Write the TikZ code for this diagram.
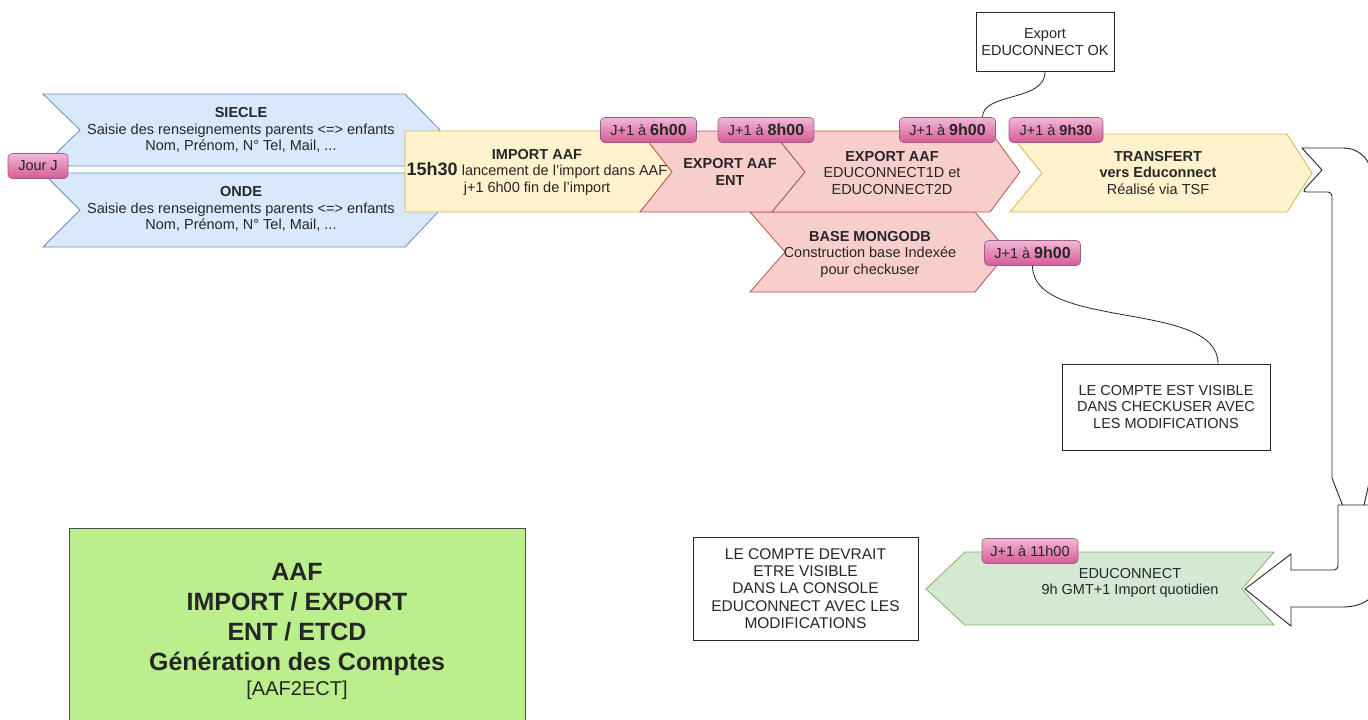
\documentclass[tikz,border=0pt]{standalone}
\usepackage{fontspec}
\setmainfont{Liberation Sans}
\definecolor{bluefill}{HTML}{DAE8FC}\definecolor{bluedraw}{HTML}{6C8EBF}
\definecolor{yelfill}{HTML}{FFF2CC}\definecolor{yeldraw}{HTML}{D6B656}
\definecolor{pinkfill}{HTML}{F8CECC}\definecolor{pinkdraw}{HTML}{B85450}
\definecolor{grnfill}{HTML}{D5E8D4}\definecolor{grndraw}{HTML}{82B366}
\definecolor{tagtop}{HTML}{F2B8D6}\definecolor{tagbot}{HTML}{D65A96}\definecolor{tagdraw}{HTML}{996185}
\definecolor{aafgreen}{HTML}{BAEF8C}
\begin{document}
\begin{tikzpicture}[x=1pt,y=-1pt,
  every node/.style={font=\fontsize{14.5}{16.5}\selectfont, inner sep=0pt, text=black!85},
  txt/.style={align=center},
  bluestep/.style={fill=bluefill, draw=bluedraw, line width=0.8pt},
  yelstep/.style={fill=yelfill, draw=yeldraw, line width=0.8pt},
  pinkstep/.style={fill=pinkfill, draw=pinkdraw, line width=0.8pt},
  grnstep/.style={fill=grnfill, draw=grndraw, line width=0.8pt},
  tag/.style={rounded corners=4pt, top color=tagtop, bottom color=tagbot, draw=tagdraw, line width=0.6pt, minimum height=25pt, minimum width=96pt, align=center},
  note/.style={draw=black!85, fill=white, line width=0.8pt, align=center},
  link/.style={draw=black!85, line width=0.8pt},
  uarrow/.style={fill=white, draw=black!85, line width=0.9pt, line join=miter}
]
\useasboundingbox (0,0) rectangle (1368,720);
\clip (0,0) rectangle (1368,720);

% blue chevrons
\draw[bluestep] (43,94) -- (405,94) -- (440,130) -- (405,166) -- (43,166) -- (80,130) -- cycle;
\draw[bluestep] (43,173) -- (405,173) -- (440,210) -- (405,247) -- (43,247) -- (80,210) -- cycle;
% import AAF
\draw[yelstep] (405,131) -- (640,131) -- (672,172) -- (640,212) -- (405,212) -- cycle;
% mongodb
\draw[pinkstep] (750,212) -- (975,212) -- (1008,252) -- (975,292) -- (750,292) -- (785,252) -- cycle;
% export ENT
\draw[pinkstep] (640,131) -- (772,131) -- (805,172) -- (772,212) -- (640,212) -- (672,172) -- cycle;
% export educonnect
\draw[pinkstep] (772,131) -- (990,131) -- (1020,172) -- (990,212) -- (772,212) -- (805,172) -- cycle;
% transfert
\draw[yelstep] (1010,134) -- (1287,134) -- (1312,173) -- (1287,212) -- (1010,212) -- (1042,173) -- cycle;
% educonnect (green, left)
\draw[grnstep] (965,552) -- (1274,552) -- (1242,589) -- (1274,625) -- (965,625) -- (926,589) -- cycle;

% big U arrow
\draw[uarrow] (1302,148) -- (1343,148) .. controls (1360,148) and (1372,160) .. (1372,180)
  -- (1372,470) -- (1356,540) -- (1332,478) [rounded corners=4pt] -- (1332,192) -- (1302,192) [sharp corners] -- (1322,170) -- cycle;
\draw[uarrow] (1380,505) -- (1338,505) [rounded corners=4pt] -- (1338,570) [sharp corners] -- (1291,570) -- (1291,554) -- (1245,589)
  -- (1291,626) -- (1291,607) -- (1343,607) .. controls (1365,607) and (1380,595) .. (1380,575) -- cycle;

% texts in steps
\node[txt] (siecle) at (241,130) {\textbf{SIECLE}\\Saisie des renseignements parents <=> enfants\\Nom, Prénom, N° Tel, Mail, ...};
\node[txt] (onde) at (241,209) {\textbf{ONDE}\\Saisie des renseignements parents <=> enfants\\Nom, Prénom, N° Tel, Mail, ...};
\node[txt] (import) at (537,172) {\textbf{IMPORT AAF}\\{\fontsize{18}{16.5}\selectfont\bfseries 15h30} lancement de l'import dans AAF\\j+1 6h00 fin de l'import};
\node[txt] (ent) at (730,172) {\textbf{EXPORT AAF}\\\textbf{ENT}};
\node[txt] (educ) at (892,173) {\textbf{EXPORT AAF}\\EDUCONNECT1D et\\EDUCONNECT2D};
\node[txt] (mongo) at (870,254) {\textbf{BASE MONGODB}\\Construction base Indexée\\pour checkuser};
\node[txt] (transfert) at (1158,173) {\textbf{TRANSFERT}\\\textbf{vers Educonnect}\\Réalisé via TSF};
\node[txt] (educgreen) at (1130,583) {EDUCONNECT\\9h GMT+1 Import quotidien};

% tags
\node[tag, minimum width=60pt] (jour) at (38,166) {Jour J};
\node[tag] (t6) at (648.5,130) {J+1 à {\fontsize{16}{16}\selectfont\bfseries 6h00}};
\node[tag] (t8) at (766,130) {J+1 à {\fontsize{16}{16}\selectfont\bfseries 8h00}};
\node[tag] (t9a) at (947.5,130) {J+1 à {\fontsize{16}{16}\selectfont\bfseries 9h00}};
\node[tag, minimum width=94pt] (t930) at (1056,130) {J+1 à \textbf{9h30}};
\node[tag] (t9b) at (1032.5,253) {J+1 à {\fontsize{16}{16}\selectfont\bfseries 9h00}};
\node[tag] (t11) at (1030,551) {J+1 à 11h00};

% notes
\node[note, minimum width=138pt, minimum height=59pt] (ok) at (1045,42) {Export\\EDUCONNECT OK};
\node[note, minimum width=208pt, minimum height=86pt] (chk) at (1166,407) {LE COMPTE EST VISIBLE\\DANS CHECKUSER AVEC\\LES MODIFICATIONS};
\node[note, minimum width=225pt, minimum height=103pt, font=\fontsize{15.5}{17.2}\selectfont] (dev) at (805.5,588.5) {LE COMPTE DEVRAIT\\ETRE VISIBLE\\DANS LA CONSOLE\\EDUCONNECT AVEC LES\\MODIFICATIONS};

% links
\draw[link] (ok.south) .. controls +(0,30) and +(0,-25) .. ([xshift=35pt]t9a.north);
\draw[link] (t9b.south) .. controls +(0,65) and +(0,-64) .. ([xshift=52pt]chk.north);

% title box
\node[draw=black!70, fill=aafgreen, line width=0.8pt, minimum width=456pt, minimum height=200pt, anchor=north west, align=center] (aaf) at (69,528) {};
\node[align=center, font=\fontsize{25}{30}\selectfont\bfseries] (aaft) at (297,619) {AAF\\IMPORT / EXPORT\\ENT / ETCD\\Génération des Comptes};
\node[font=\fontsize{20}{24}\selectfont] (aafc) at (297,690) {[AAF2ECT]};
\end{tikzpicture}
\end{document}
